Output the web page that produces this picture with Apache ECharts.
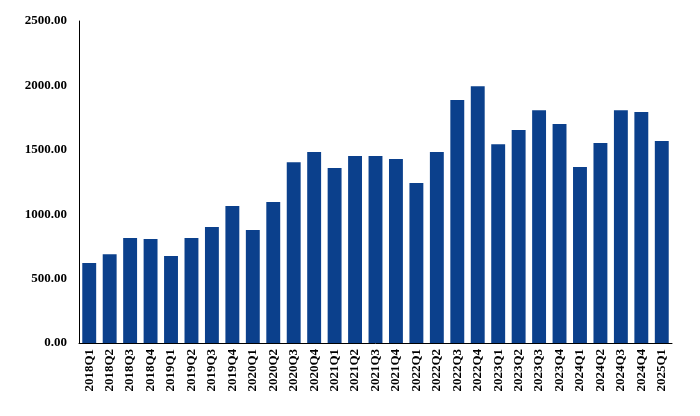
<!DOCTYPE html>
<html>
<head>
<meta charset="utf-8">
<script src="https://cdn.jsdelivr.net/npm/echarts@6/dist/echarts.min.js"></script>
<style>html,body{margin:0;padding:0;background:#fff}#chart{width:700px;height:416px}</style>
</head>
<body>
<div id="chart"></div>
<script>
const quarters = ['2018Q1','2018Q2','2018Q3','2018Q4','2019Q1','2019Q2','2019Q3','2019Q4',
  '2020Q1','2020Q2','2020Q3','2020Q4','2021Q1','2021Q2','2021Q3','2021Q4',
  '2022Q1','2022Q2','2022Q3','2022Q4','2023Q1','2023Q2','2023Q3','2023Q4',
  '2024Q1','2024Q2','2024Q3','2024Q4','2025Q1'];
const values = [621,690,815,807,675,815,900,1063,
  877,1094,1404,1482,1358,1451,1451,1428,
  1242,1482,1886,1994,1544,1653,1808,1700,
  1366,1552,1808,1793,1568];
const yTicks = {min: 0, max: 2500, interval: 500};

const chart = echarts.init(document.getElementById('chart'));
const font = {fontFamily: 'Liberation Serif', fontWeight: 'bold', fontSize: 13, color: '#000'};
chart.setOption({
  animation: false,
  grid: {left: 79, right: 28, top: 21, bottom: 73},
  xAxis: {
    type: 'category',
    data: quarters,
    axisLine: {lineStyle: {color: '#000', width: 1}},
    axisTick: {show: false},
    axisLabel: Object.assign({rotate: 90, interval: 0, margin: 6}, font)
  },
  yAxis: {
    type: 'value',
    min: yTicks.min, max: yTicks.max, interval: yTicks.interval,
    axisLine: {show: true, lineStyle: {color: '#000', width: 1}},
    axisTick: {show: false},
    splitLine: {show: false},
    axisLabel: Object.assign({margin: 12, formatter: v => v.toFixed(2)}, font)
  },
  series: [{
    type: 'bar',
    data: values,
    barCategoryGap: '32%',
    itemStyle: {color: '#0b408c'}
  }]
});
</script>
</body>
</html>
